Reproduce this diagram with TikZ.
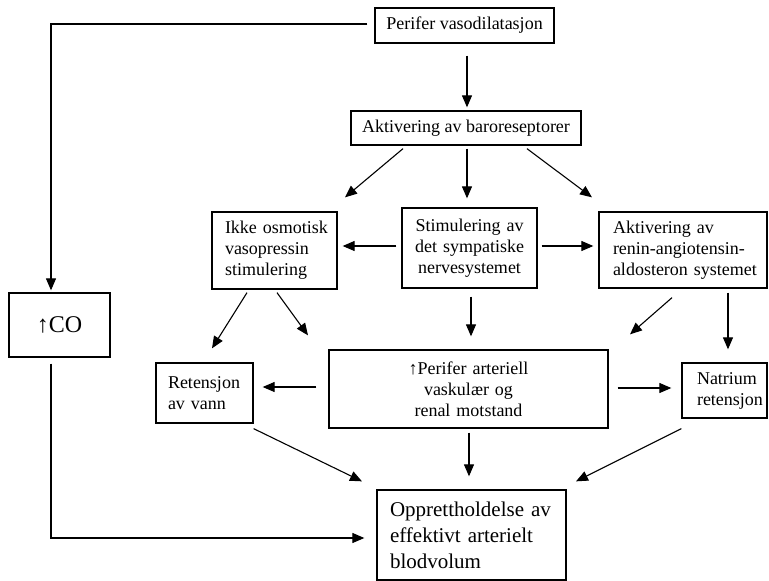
\documentclass[tikz,border=0pt]{standalone}
\usepackage{fontspec}
\setmainfont{Liberation Serif}
\usetikzlibrary{arrows.meta}
\begin{document}
\begin{tikzpicture}[x=1pt,y=-1pt,
  box/.style={draw, line width=1.3pt, inner ysep=0pt, minimum height=#1,
    font=\fontsize{18}{21}\selectfont},
  ctr/.style={align=center},
  lft/.style={align=left},
  arr/.style={line width=1.1pt, -{Triangle[length=12pt,width=10pt]}},
  ln/.style={line width=1.1pt}]
\useasboundingbox[fill=white] (0,0) rectangle (769,581);

\node[box=35pt, inner xsep=0pt, minimum width=179pt, ctr] (pv) at (464.5,25.5) {Perifer vasodilatasjon};
\node[box=34pt, inner xsep=0pt, minimum width=230pt, ctr] (baro) at (466,128) {Aktivering av baroreseptorer};
\node[box=77pt, inner xsep=13pt, text width=99pt, lft] (ikke) at (274.5,250.5) {\mbox{Ikke osmotisk}\\\mbox{vasopressin}\\\mbox{stimulering}};
\node[box=80pt, inner xsep=0pt, text width=135pt, ctr] (stim) at (469.5,248) {\mbox{Stimulering av}\\\mbox{det sympatiske}\\\mbox{nervesystemet}};
\node[box=76pt, inner xsep=14pt, text width=140pt, lft] (raas) at (683,250) {\mbox{Aktivering av}\\\mbox{renin-angiotensin-}\\\mbox{aldosteron systemet}};
\node[box=64pt, inner xsep=0pt, minimum width=101pt, ctr, font=\fontsize{24}{28}\selectfont] (co) at (59.5,325) {↑CO};
\node[box=78pt, inner xsep=0pt, text width=279pt, ctr] (pa) at (468.5,389) {↑Perifer arteriell\\vaskulær og\\renal motstand};
\node[box=60pt, inner xsep=12pt, text width=73pt, lft] (ret) at (204.5,393) {\mbox{Retensjon}\\\mbox{av vann}};
\node[box=55pt, inner xsep=15pt, text width=55pt, lft] (nat) at (724.5,390.5) {\mbox{Natrium}\\\mbox{retensjon}};
\node[box=90pt, inner xsep=13pt, text width=163pt, lft, font=\fontsize{21}{26}\selectfont] (opp) at (471.5,535) {\mbox{Opprettholdelse av}\\\mbox{effektivt arterielt}\\\mbox{blodvolum}};

% connectors
\draw[arr] ([shift={(-7,-1.5)}]pv.west) -| ([shift={(-8.5,-2)}]co.north);
\draw[arr] ([shift={(2.5,12)}]pv.south) -- ([shift={(1,-3)}]baro.north);
\draw[arr] ([shift={(-63,3)}]baro.south) -- ([shift={(70.5,-14)}]ikke.north);
\draw[arr] ([shift={(1,3)}]baro.south) -- ([shift={(-2.5,-9)}]stim.north);
\draw[arr] ([shift={(61,3)}]baro.south) -- ([shift={(-91,-14)}]raas.north);
\draw[arr] ([shift={(-5,-2)}]stim.west) -- ([shift={(5,-4.5)}]ikke.east);
\draw[arr] ([shift={(4,-2)}]stim.east) -- ([shift={(-5,-4)}]raas.west);
\draw[arr] ([shift={(-27.5,3)}]ikke.south) -- ([shift={(7.5,-14)}]ret.north);
\draw[arr] ([shift={(2.5,3)}]ikke.south) -- ([shift={(-160.5,-14)}]pa.north);
\draw[arr] ([shift={(1.5,8)}]stim.south) -- ([shift={(2.5,-13)}]pa.north);
\draw[arr] ([shift={(-11,9)}]raas.south) -- ([shift={(161.5,-15)}]pa.north);
\draw[arr] ([shift={(45,4)}]raas.south) -- ([shift={(3.5,-13)}]nat.north);
\draw[arr] ([shift={(-12,-2)}]pa.west) -- ([shift={(9,-6)}]ret.east);
\draw[arr] ([shift={(9,-1)}]pa.east) -- ([shift={(-10,-2.5)}]nat.west);
\draw[arr] ([shift={(-8.5,6)}]co.south) |- ([shift={(-12,3)}]opp.west);
\draw[arr] ([shift={(0,5)}]ret.south east) -- ([shift={(-109.5,-8)}]opp.north);
\draw[arr] ([shift={(0.5,4)}]pa.south) -- ([shift={(-2.5,-13)}]opp.north);
\draw[arr] ([shift={(0,10)}]nat.south west) -- ([shift={(104.5,-8)}]opp.north);
\end{tikzpicture}
\end{document}
